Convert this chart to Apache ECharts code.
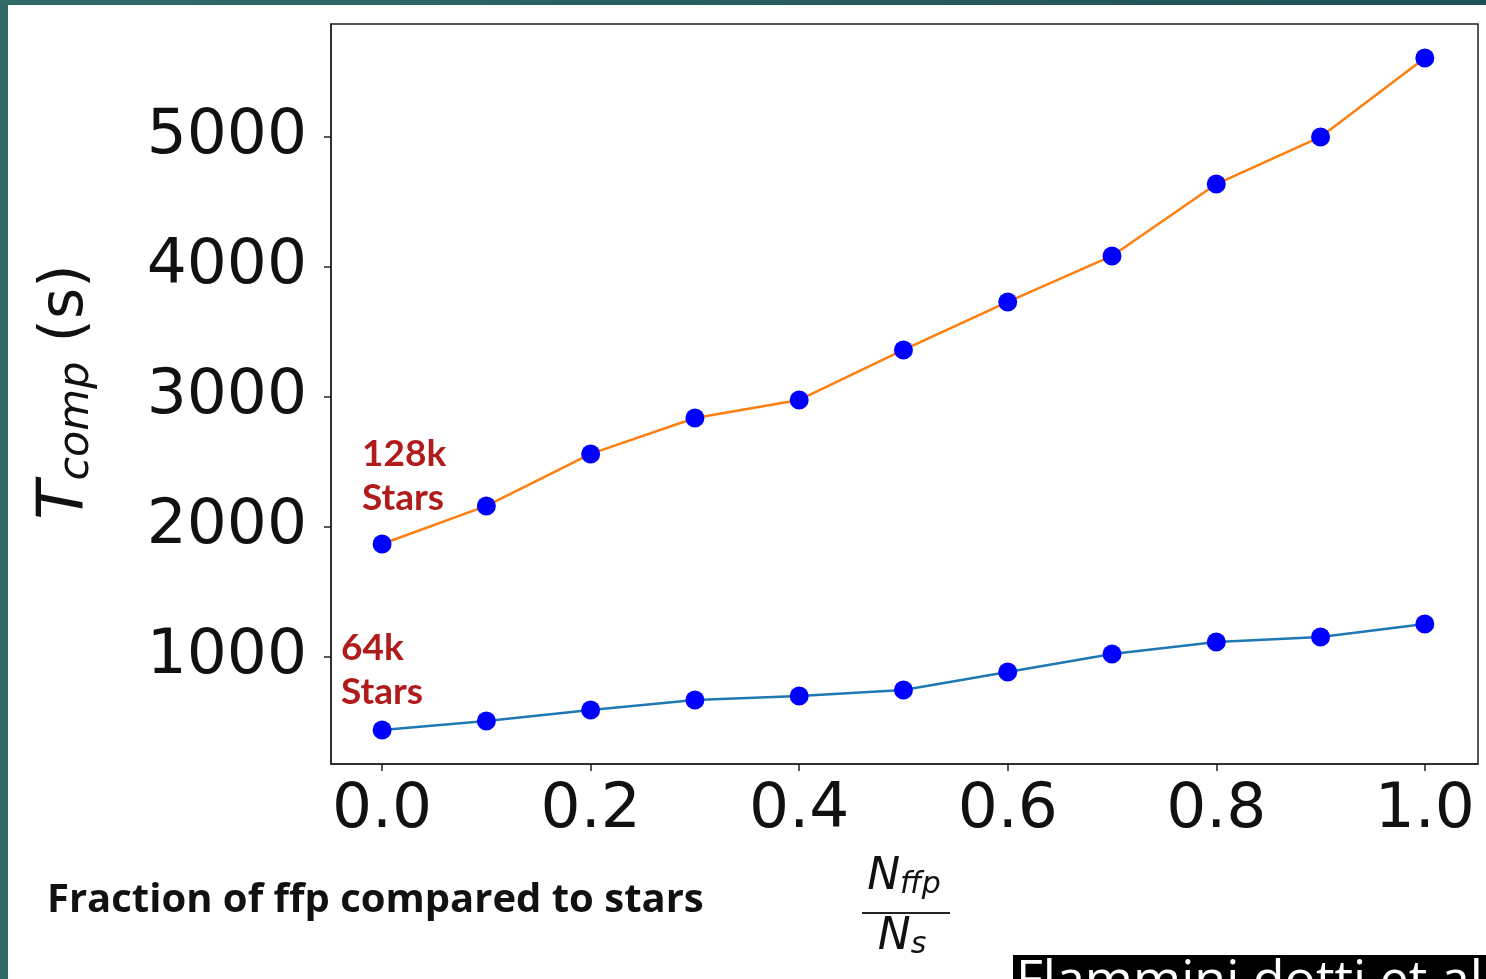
<!DOCTYPE html>
<html>
<head>
<meta charset="UTF-8">
<title>Tcomp vs fraction of ffp</title>
<script src="https://cdn.jsdelivr.net/npm/echarts@6/dist/echarts.min.js"></script>
<style>
  html, body { margin: 0; padding: 0; background: #fff; overflow: hidden; }
  #chart { width: 1486px; height: 979px; }
</style>
</head>
<body>
<div id="chart"></div>
<script>
// fraction N_ffp / N_s
var fractions = [0.0, 0.1, 0.2, 0.3, 0.4, 0.5, 0.6, 0.7, 0.8, 0.9, 1.0];
// T_comp (s)
var stars128k = [1869, 2162, 2562, 2838, 2977, 3362, 3731, 4085, 4638, 5000, 5608];
var stars64k = [439, 508, 592, 669, 700, 746, 885, 1023, 1115, 1154, 1254];
var xTicks = [0.0, 0.2, 0.4, 0.6, 0.8, 1.0];
var yTicks = [1000, 2000, 3000, 4000, 5000];

function pairs(vals) {
    return vals.map(function (v, i) { return [fractions[i], v]; });
}

var myChart = echarts.init(document.getElementById('chart'));

var tickFont = { fontFamily: 'DejaVu Sans', fontSize: 63, color: '#111' };

var option = {
    backgroundColor: '#ffffff',
    animation: false,
    grid: {
        left: 331, top: 24, right: 8, bottom: 215,
        show: true, borderColor: '#222', borderWidth: 1.5, backgroundColor: 'transparent'
    },
    xAxis: {
        type: 'value',
        min: -0.049, max: 1.051,
        splitLine: { show: false },
        axisLine: { show: true, onZero: false, lineStyle: { color: '#222', width: 1.5 } },
        axisTick: { show: true, length: 7, customValues: xTicks, lineStyle: { color: '#222', width: 1.5 } },
        axisLabel: {
            customValues: xTicks, margin: 15,
            fontFamily: tickFont.fontFamily, fontSize: tickFont.fontSize, color: tickFont.color,
            formatter: function (v) { return v.toFixed(1); }
        }
    },
    yAxis: {
        type: 'value',
        min: 177, max: 5869,
        splitLine: { show: false },
        axisLine: { show: true, onZero: false, lineStyle: { color: '#222', width: 1.5 } },
        axisTick: { show: true, length: 7, customValues: yTicks, lineStyle: { color: '#222', width: 1.5 } },
        axisLabel: {
            customValues: yTicks, margin: 24,
            fontFamily: tickFont.fontFamily, fontSize: tickFont.fontSize, color: tickFont.color,
            formatter: function (v) { return String(v); }
        }
    },
    series: [{
        name: '128k Stars',
        type: 'line',
        data: pairs(stars128k),
        symbol: 'circle', symbolSize: 19,
        lineStyle: { color: '#ff7f0e', width: 2.5 },
        itemStyle: { color: '#0000ff' },
        z: 3
    }, {
        name: '64k Stars',
        type: 'line',
        data: pairs(stars64k),
        symbol: 'circle', symbolSize: 19,
        lineStyle: { color: '#1f77b4', width: 2.5 },
        itemStyle: { color: '#0000ff' },
        z: 3
    }],
    graphic: [
        // slide border
        { type: 'rect', shape: { x: 0, y: 0, width: 8, height: 979 }, style: { fill: '#2d6866' }, z: 100 },
        { type: 'rect', shape: { x: 0, y: 0, width: 1486, height: 5 },
          style: { fill: new echarts.graphic.LinearGradient(0, 0, 1, 0, [
              { offset: 0, color: '#2f6c68' }, { offset: 1, color: '#1f4f57' }]) }, z: 100 },
        // y axis title
        {
            type: 'text', x: 66, y: 392, rotation: Math.PI / 2,
            style: {
                text: '{t|T}{s|comp} (s)',
                align: 'center', verticalAlign: 'middle',
                fontFamily: 'DejaVu Sans', fontSize: 60, fill: '#111',
                rich: {
                    t: { fontFamily: 'DejaVu Sans', fontStyle: 'italic', fontSize: 64 },
                    s: { fontFamily: 'DejaVu Sans', fontStyle: 'italic', fontSize: 43, padding: [22, 0, 0, 0] }
                }
            }
        },
        // series annotations
        {
            type: 'text', x: 362, y: 432,
            style: { text: '128k\nStars', fontFamily: 'Lato', fontWeight: 'bold', fontSize: 37,
                     lineHeight: 44, fill: '#b01c1c' }
        },
        {
            type: 'text', x: 341, y: 626,
            style: { text: '64k\nStars', fontFamily: 'Lato', fontWeight: 'bold', fontSize: 37,
                     lineHeight: 44, fill: '#b01c1c' }
        },
        // caption
        {
            type: 'text', x: 47, y: 881,
            style: { text: 'Fraction of ffp compared to stars', fontFamily: 'Open Sans', fontWeight: 'bold',
                     fontSize: 40, fill: '#111' }
        },
        // fraction label
        {
            type: 'text', x: 904, y: 878,
            style: { text: '{n|N}{s|ffp}', align: 'center', verticalAlign: 'middle', fill: '#111',
                     rich: { n: { fontFamily: 'DejaVu Sans', fontStyle: 'italic', fontSize: 44 },
                             s: { fontFamily: 'DejaVu Sans', fontStyle: 'italic', fontSize: 30, padding: [14, 0, 0, 0] } } }
        },
        { type: 'line', shape: { x1: 862, y1: 913, x2: 950, y2: 913 }, style: { stroke: '#222', lineWidth: 2 } },
        {
            type: 'text', x: 902, y: 938,
            style: { text: '{n|N}{s|s}', align: 'center', verticalAlign: 'middle', fill: '#111',
                     rich: { n: { fontFamily: 'DejaVu Sans', fontStyle: 'italic', fontSize: 44 },
                             s: { fontFamily: 'DejaVu Sans', fontStyle: 'italic', fontSize: 30, padding: [14, 0, 0, 0] } } }
        },
        // citation box cut by the slide edge
        { type: 'rect', shape: { x: 1013, y: 955, width: 473, height: 24 }, style: { fill: '#000' }, z: 50 },
        {
            type: 'text', x: 1016, y: 956, z: 51,
            style: { text: 'Flammini dotti et al.', fontFamily: 'Open Sans', fontSize: 52, fill: '#fff' }
        }
    ]
};

myChart.setOption(option);
</script>
</body>
</html>
